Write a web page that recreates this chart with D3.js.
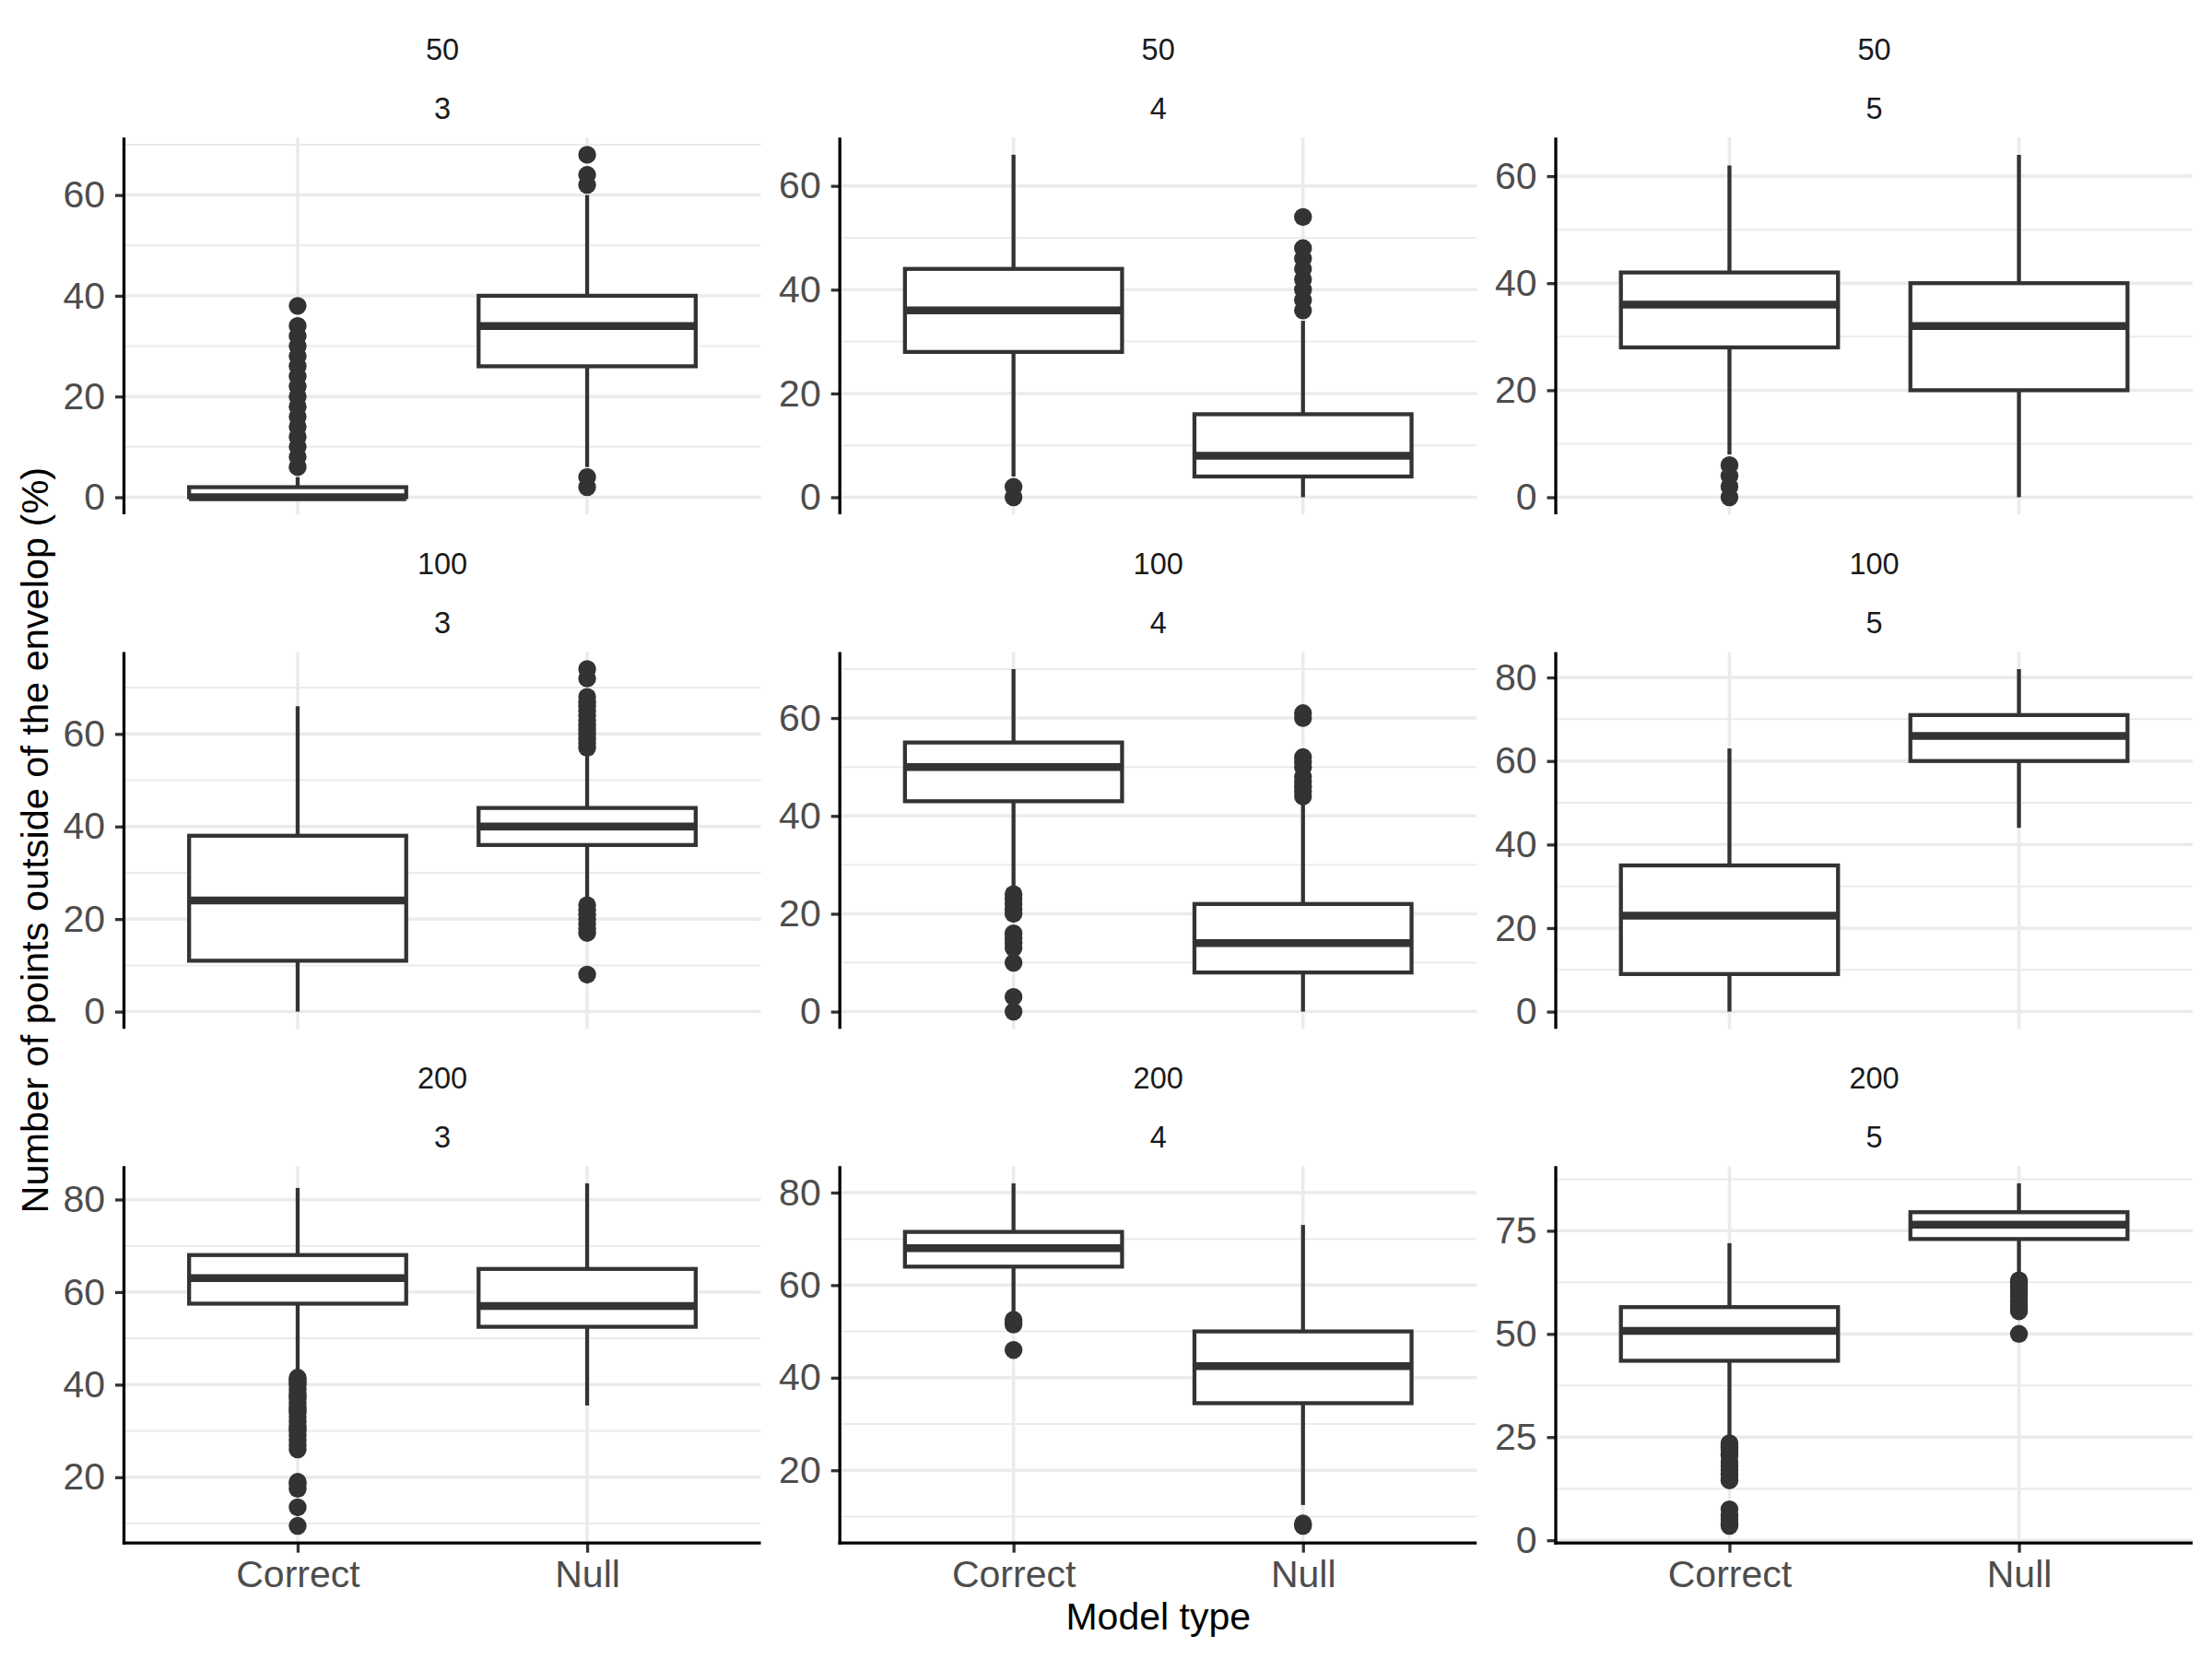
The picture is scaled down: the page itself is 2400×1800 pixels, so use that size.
<!DOCTYPE html>
<html>
<head>
<meta charset="utf-8">
<script src="https://cdn.jsdelivr.net/npm/d3@7"></script>
<style>
  html, body { margin: 0; padding: 0; background: #ffffff; }
  svg { display: block; }
  text { font-family: "Liberation Sans", Arial, Helvetica, sans-serif; }
</style>
</head>
<body>
<div id="chart"></div>
<script>
// ---------------- DATA ----------------
const rowLabels = ["50", "100", "200"];   // upper strip (sample size)
const colLabels = ["3", "4", "5"];        // lower strip
const modelTypes = ["Correct", "Null"];
const yTickStep = [20, 20, 20, 20, 20, 20, 20, 20, 25];

// panels in row-major order: (50,3),(50,4),(50,5),(100,3),(100,4),(100,5),(200,3),(200,4),(200,5)
// each entry: [Correct, Null]
const whiskerLow  = [[0, 6], [4, 0], [8, 0], [0, 24], [25, 0], [0, 44], [42, 35.5], [53, 12.5], [24, 63.5]];
const q1          = [[0, 26], [28, 4], [28, 20], [11, 36], [43, 8], [9, 60], [57.5, 52.5], [64, 34.5], [43.5, 73]];
const median      = [[0, 34], [36, 8], [36, 32], [24, 40], [50, 14], [23, 66], [63, 57], [68, 42.5], [50.75, 76.5]];
const q3          = [[2, 40], [44, 16], [42, 40], [38, 44], [55, 22], [35, 71], [68, 65], [71.5, 50], [56.5, 79.5]];
const whiskerHigh = [[4, 60], [66, 34], [62, 64], [66, 56], [70, 43], [63, 82], [82.5, 83.5], [82, 73], [72, 86.5]];
const outliers = [
  [[6, 8, 10, 12, 14, 16, 18, 20, 22, 24, 26, 28, 30, 32, 34, 38], [2, 4, 62, 64, 68]],
  [[0, 2], [36, 38, 40, 42, 44, 46, 48, 54]],
  [[0, 2, 4, 6], []],
  [[], [8, 17, 18, 19, 20, 21, 22, 23, 57, 58, 59, 60, 61, 62, 63, 64, 65, 66, 67, 68, 72, 74]],
  [[0, 3, 10, 13, 14, 15, 16, 20, 21, 22, 23, 24], [44, 45, 46, 47, 48, 50, 51, 52, 60, 61]],
  [[], []],
  [[9.5, 13.5, 17.5, 18.5, 19, 26, 27, 28, 29, 30, 30.5, 31, 32, 33, 34, 34.5, 35, 36, 37, 37.5, 38, 39, 40, 40.5, 41, 41.5], []],
  [[46, 51.5, 52, 52.5], [8, 8.5]],
  [[3.5, 4, 5, 6, 7.5, 14.5, 15, 16, 17, 18, 19, 20.5, 21, 22, 22.5, 23, 23.5],
   [50, 55.5, 56, 57, 58, 59, 59.5, 60, 61, 61.5, 62, 62.5, 63]]
];
const xTitle = "Model type";
const yTitle = "Number of points outside of the envelop (%)";

// ---------------- LAYOUT ----------------
const W = 2400, H = 1800;
const colLeft = [134.5, 911.2, 1688];
const panelW = 691;
const rowTop = [149.3, 707.4, 1265.3];
const panelH = 408.8;

const INK = "#333333";
const GRID = "#ebebeb";

const svg = d3.select("#chart").append("svg")
  .attr("width", W).attr("height", H)
  .attr("viewBox", `0 0 ${W} ${H}`);
svg.append("rect").attr("width", W).attr("height", H).attr("fill", "#ffffff");

const x = d3.scalePoint().domain(modelTypes).range([0, panelW]).padding(0.6);
const boxW = x.step() * 0.75;

rowLabels.forEach((rl, r) => {
  colLabels.forEach((cl, c) => {
    const p = r * 3 + c;
    const g = svg.append("g").attr("transform", `translate(${colLeft[c]},${rowTop[r]})`);

    // y domain like ggplot: data range expanded by 5%
    const vals = [];
    modelTypes.forEach((m, i) => {
      vals.push(whiskerLow[p][i], whiskerHigh[p][i], ...outliers[p][i]);
    });
    const [lo, hi] = d3.extent(vals);
    const pad = (hi - lo) * 0.05;
    const y = d3.scaleLinear().domain([lo - pad, hi + pad]).range([panelH, 0]);

    const step = yTickStep[p];
    const majors = d3.range(Math.ceil(y.domain()[0] / step) * step, y.domain()[1] + 1e-9, step);
    const minors = d3.range(Math.ceil((y.domain()[0] - step / 2) / step) * step + step / 2, y.domain()[1], step)
      .filter(v => v > y.domain()[0] && v < y.domain()[1]);

    // grid
    g.selectAll(".minor").data(minors).join("line")
      .attr("x1", 0).attr("x2", panelW)
      .attr("y1", d => y(d)).attr("y2", d => y(d))
      .attr("stroke", GRID).attr("stroke-width", 2);
    g.selectAll(".major").data(majors).join("line")
      .attr("x1", 0).attr("x2", panelW)
      .attr("y1", d => y(d)).attr("y2", d => y(d))
      .attr("stroke", GRID).attr("stroke-width", 3.5);
    g.selectAll(".vmajor").data(modelTypes).join("line")
      .attr("x1", d => x(d)).attr("x2", d => x(d))
      .attr("y1", 0).attr("y2", panelH)
      .attr("stroke", GRID).attr("stroke-width", 3.5);

    // boxplots
    modelTypes.forEach((m, i) => {
      const cx = x(m);
      const bg = g.append("g");
      bg.selectAll("circle").data(outliers[p][i]).join("circle")
        .attr("cx", cx).attr("cy", d => y(d)).attr("r", 9.7)
        .attr("fill", INK);
      bg.append("line").attr("x1", cx).attr("x2", cx)
        .attr("y1", y(q3[p][i])).attr("y2", y(whiskerHigh[p][i]))
        .attr("stroke", INK).attr("stroke-width", 4.3);
      bg.append("line").attr("x1", cx).attr("x2", cx)
        .attr("y1", y(q1[p][i])).attr("y2", y(whiskerLow[p][i]))
        .attr("stroke", INK).attr("stroke-width", 4.3);
      bg.append("rect")
        .attr("x", cx - boxW / 2).attr("width", boxW)
        .attr("y", y(q3[p][i])).attr("height", y(q1[p][i]) - y(q3[p][i]))
        .attr("fill", "#ffffff").attr("stroke", INK).attr("stroke-width", 4.3);
      bg.append("line")
        .attr("x1", cx - boxW / 2).attr("x2", cx + boxW / 2)
        .attr("y1", y(median[p][i])).attr("y2", y(median[p][i]))
        .attr("stroke", INK).attr("stroke-width", 8.5);
    });

    // y axis
    const yAxis = d3.axisLeft(y).tickValues(majors).tickSize(9.5).tickPadding(11).tickFormat(d3.format("d"));
    const ya = g.append("g").call(yAxis);
    ya.select(".domain").remove();
    ya.selectAll(".tick line").attr("stroke", INK).attr("stroke-width", 3.3);
    ya.selectAll(".tick text")
      .attr("fill", "#4d4d4d").attr("font-size", 41)
      .attr("font-family", "'Liberation Sans', Arial, sans-serif");
    g.append("line").attr("x1", 0).attr("x2", 0)
      .attr("y1", 0).attr("y2", panelH + (r === 2 ? 1.6 : 0))
      .attr("stroke", "#000000").attr("stroke-width", 3.3);

    // x axis (bottom row only)
    if (r === 2) {
      const xa = g.append("g").attr("transform", `translate(0,${panelH})`)
        .call(d3.axisBottom(x).tickSize(10.5).tickPadding(8));
      xa.select(".domain").remove();
      xa.selectAll(".tick line").attr("stroke", INK).attr("stroke-width", 3.3);
      xa.selectAll(".tick text")
        .attr("fill", "#4d4d4d").attr("font-size", 41)
        .attr("font-family", "'Liberation Sans', Arial, sans-serif");
      g.append("line").attr("x1", -1.6).attr("x2", panelW)
        .attr("y1", panelH).attr("y2", panelH)
        .attr("stroke", "#000000").attr("stroke-width", 3.3);
    }

    // strip labels
    g.append("text").attr("x", panelW / 2).attr("y", -84.3)
      .attr("text-anchor", "middle").attr("font-size", 32.5).attr("fill", "#1a1a1a")
      .text(rl);
    g.append("text").attr("x", panelW / 2).attr("y", -20.5)
      .attr("text-anchor", "middle").attr("font-size", 32.5).attr("fill", "#1a1a1a")
      .text(cl);
  });
});

// axis titles
svg.append("text")
  .attr("x", (colLeft[0] + colLeft[2] + panelW) / 2).attr("y", 1767.5)
  .attr("text-anchor", "middle").attr("font-size", 41).attr("fill", "#000000")
  .text(xTitle);
svg.append("text")
  .attr("transform", `translate(52,${(rowTop[0] + rowTop[2] + panelH) / 2}) rotate(-90)`)
  .attr("text-anchor", "middle").attr("font-size", 41.5).attr("fill", "#000000")
  .text(yTitle);
</script>
</body>
</html>
